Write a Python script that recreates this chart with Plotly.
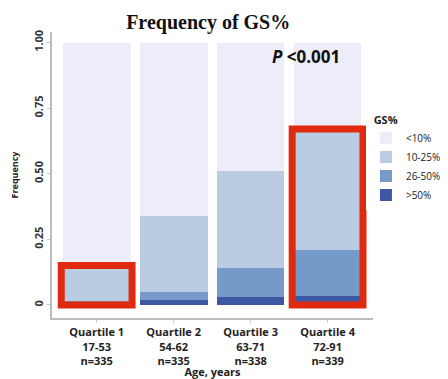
import plotly.graph_objects as go

categories = ["Quartile 1<br>17-53<br>n=335", "Quartile 2<br>54-62<br>n=335",
              "Quartile 3<br>63-71<br>n=338", "Quartile 4<br>72-91<br>n=339"]
gs_gt50 = [0.005, 0.02, 0.03, 0.035]
gs_26_50 = [0.01, 0.03, 0.11, 0.175]
gs_10_25 = [0.125, 0.29, 0.37, 0.45]
gs_lt10 = [0.86, 0.66, 0.49, 0.34]
series_names = [">50%", "26-50%", "10-25%", "<10%"]
series_vals = [gs_gt50, gs_26_50, gs_10_25, gs_lt10]
colors = ["#3D57A3", "#7599C8", "#BACCE2", "#ECEDF9"]
y_ticks = [0, 0.25, 0.5, 0.75, 1.0]
y_ticklabels = ["0", "0.25", "0.50", "0.75", "1.00"]
highlight_idx = [0, 3]

fig = go.Figure()
for name, vals, c in zip(series_names, series_vals, colors):
    fig.add_trace(go.Bar(x=list(range(4)), y=vals, name=name, marker_color=c,
                         marker_line_width=0))

# red highlight boxes around the coloured (non-<10%) part of selected bars
for i in highlight_idx:
    top = gs_gt50[i] + gs_26_50[i] + gs_10_25[i]
    fig.add_shape(type="rect", xref="x", yref="y",
                  x0=i - 0.46, x1=i + 0.46, y0=-0.0, y1=top + 0.01,
                  line=dict(color="#E02A10", width=7), layer="above")

fig.update_layout(
    barmode="stack", bargap=0.12,
    width=440, height=371,
    margin=dict(l=44, r=75, t=24, b=61, autoexpand=False),
    paper_bgcolor="white", plot_bgcolor="white",
    font=dict(family="Open Sans", color="#222"),
    title=dict(text="<b>Frequency of GS%</b>", x=0.455, xanchor="center", y=0.982, yanchor="top",
               pad=dict(t=0, b=0), font=dict(family="Liberation Serif", size=20, color="#111")),
    legend=dict(title=dict(text="&nbsp;&nbsp;<b>GS%</b>", font=dict(size=11)), traceorder="reversed",
                x=0.978, xanchor="left", y=0.73, yanchor="top",
                font=dict(size=10, color="#222"), itemwidth=30, tracegroupgap=0),
    showlegend=True,
)
fig.update_xaxes(tickvals=list(range(4)), ticktext=["<b>" + c.replace("<br>", "</b><br><b>") + "</b>" for c in categories],
                 range=[-0.58, 3.59], showline=True, linecolor="#BBBBBB", linewidth=2,
                 ticks="outside", tickcolor="#CCCCCC", ticklen=3, automargin=False,
                 tickfont=dict(size=11, color="#222"),
                 title=dict(text="<b>Age, years</b>", font=dict(size=11), standoff=1))
fig.update_yaxes(range=[-0.05, 1.04], tickvals=y_ticks, ticktext=["<b>" + t + "</b>" for t in y_ticklabels],
                 tickangle=-90, showgrid=False, zeroline=False, showline=True, automargin=False,
                 linecolor="#BBBBBB", linewidth=2, ticks="outside", tickcolor="#CCCCCC", ticklen=3,
                 tickfont=dict(size=11, color="#333"),
                 title=dict(text="<b>Frequency</b>", font=dict(size=9), standoff=12))
fig.add_annotation(x=0.903, xref="paper", y=0.913, yref="paper", xanchor="right", yanchor="middle",
                   text="<b><i>P</i> <0.001</b>", showarrow=False,
                   font=dict(size=17, color="#111", family="Open Sans"))

fig.write_html("out.html")
